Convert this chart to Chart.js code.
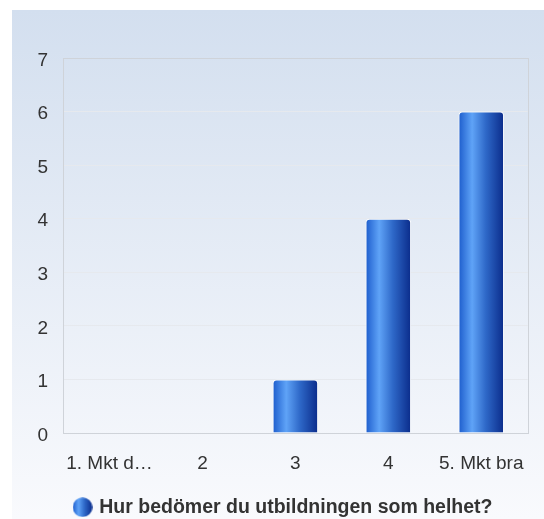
<!DOCTYPE html>
<html>
<head>
<meta charset="utf-8">
<script src="https://cdn.jsdelivr.net/npm/chart.js@4"></script>
<style>
  html, body { margin: 0; padding: 0; background: #fff; overflow: hidden; }
  #wrap { position: relative; width: 544px; height: 527px; }
</style>
</head>
<body>
<div id="wrap"><canvas id="chart"></canvas></div>
<script>
const categories = ['1. Mkt d…', '2', '3', '4', '5. Mkt bra'];
const counts = [0, 0, 1, 4, 6];
const seriesName = 'Hur bedömer du utbildningen som helhet?';
const yMax = 7;

const TEXT = '#333333';
const FONT = "Arial, 'Liberation Sans', sans-serif";
const BAR_PCT = 0.49;

function barGradient(ctx, x0, x1) {
  const g = ctx.createLinearGradient(x0, 0, x1, 0);
  g.addColorStop(0, '#1c5ccc');
  g.addColorStop(0.3, '#5fa3f7');
  g.addColorStop(0.6, '#2e68c8');
  g.addColorStop(1, '#0a2b8a');
  return g;
}

// legend icon: small gradient ball
const icon = document.createElement('canvas');
icon.width = 20; icon.height = 20;
(function () {
  const c = icon.getContext('2d');
  c.fillStyle = barGradient(c, 0, 20);
  c.beginPath();
  c.arc(10, 10, 9.8, 0, Math.PI * 2);
  c.fill();
})();

const backdrop = {
  id: 'backdrop',
  beforeDraw(chart) {
    const c = chart.ctx;
    const g = c.createLinearGradient(0, 10, 0, 519);
    g.addColorStop(0, '#d3dfef');
    g.addColorStop(1, '#f9fafd');
    c.save();
    c.fillStyle = g;
    c.fillRect(12, 10, 532, 520);
    c.restore();
  },
  beforeDatasetsDraw(chart) {
    const a = chart.chartArea;
    const c = chart.ctx;
    c.save();
    c.strokeStyle = '#cfd3d9';
    c.lineWidth = 1;
    c.strokeRect(Math.round(a.left) + 0.5, Math.round(a.top) + 0.5,
      Math.round(a.right - a.left), Math.round(a.bottom - a.top));
    c.restore();
  },
  // y tick labels sit a little below their grid lines in the original
  afterDraw(chart) {
    const y = chart.scales.y;
    const c = chart.ctx;
    c.save();
    c.fillStyle = TEXT;
    c.font = '19px ' + FONT;
    c.textAlign = 'right';
    c.textBaseline = 'middle';
    y.ticks.forEach(t => {
      c.fillText(String(t.value), chart.chartArea.left - 15, y.getPixelForValue(t.value) + 2.5);
    });
    c.restore();
  }
};

new Chart(document.getElementById('chart'), {
  type: 'bar',
  data: {
    labels: categories,
    datasets: [{
      label: seriesName,
      data: counts,
      backgroundColor(context) {
        const chart = context.chart;
        if (!chart.chartArea || context.type !== 'data') return '#2e68c8';
        const x = chart.scales.x;
        const cx = x.getPixelForValue(context.dataIndex);
        const half = (x.width / categories.length) * BAR_PCT / 2;
        return barGradient(chart.ctx, cx - half, cx + half);
      },
      borderColor: 'rgba(255,255,255,0.9)',
      borderWidth: 1,
      borderSkipped: 'bottom',
      borderRadius: { topLeft: 4, topRight: 4 },
      categoryPercentage: 1,
      barPercentage: BAR_PCT
    }]
  },
  options: {
    responsive: true,
    maintainAspectRatio: false,
    animation: false,
    layout: { padding: { left: 39, right: 15, top: 58, bottom: 0 } },
    plugins: {
      legend: {
        position: 'bottom',
        labels: {
          usePointStyle: true,
          pointStyle: icon,
          boxWidth: 14,
          color: TEXT,
          font: { family: FONT, size: 19.5, weight: 'bold' },
          padding: 3
        }
      },
      tooltip: { enabled: false }
    },
    scales: {
      x: {
        afterFit(scale) { scale.height = 61.5; },
        grid: { display: false, drawTicks: false },
        border: { color: '#cfd3d9' },
        ticks: { color: TEXT, font: { family: FONT, size: 19 }, padding: 19, maxRotation: 0, autoSkip: false }
      },
      y: {
        min: 0,
        max: yMax,
        afterFit(scale) { scale.width = 24; },
        grid: { color: '#e6e9ee', drawTicks: false },
        border: { color: '#cfd3d9' },
        ticks: { stepSize: 1, display: false }
      }
    }
  },
  plugins: [backdrop]
});
</script>
</body>
</html>
